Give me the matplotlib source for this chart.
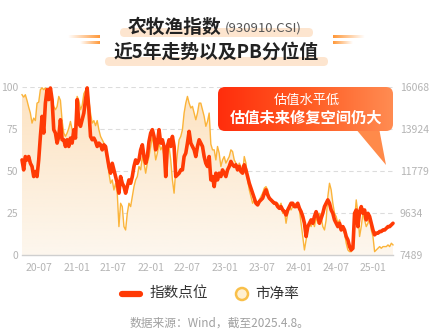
import numpy as np
import pandas as pd
import matplotlib
matplotlib.use("Agg")
import matplotlib.pyplot as plt
import matplotlib.dates as mdates
from matplotlib.patches import FancyBboxPatch, Polygon, Circle
from matplotlib.colors import LinearSegmentedColormap, to_rgb

plt.rcParams['font.family'] = ['Noto Sans CJK SC', 'DejaVu Sans']

# ---- data ----
start_date = "2020-04-08"
end_date = "2025-04-08"

# PB percentile, left axis (0-100)
pb_pct = [
    95.4, 94, 95.4, 92, 88, 84.5, 78.5, 81.5, 80, 90.4,
    91, 98.4, 99.5, 98.4, 99.5, 98.4, 95.4, 96.4, 92, 88.4,
    86.5, 88.4, 94.4, 92, 80, 72.6, 70.6, 72.6, 75.5, 79.5,
    74.6, 70.6, 78.5, 94.4, 92, 86.5, 89, 96, 98, 100,
    92, 84.5, 78.5, 80, 77, 80, 74.6, 70.6, 68.6, 66.6,
    61.6, 56.6, 48.7, 42.7, 44.7, 38.7, 42.7, 36.8, 16.9, 30.8,
    28.8, 16.9, 14.9, 24.8, 30.8, 28.8, 34.8, 40.7, 44.7, 46.7,
    52.7, 50.7, 58.6, 54.6, 48.7, 54.6, 58.6, 64.6, 70.6, 64.6,
    56.6, 60.6, 66.6, 62.6, 64.6, 58.6, 60.6, 66.6, 64.6, 56.6,
    44.7, 36.8, 50.6, 60.6, 68.6, 70.6, 74.6, 84.5, 90.4, 94.4,
    90.4, 87.5, 88.5, 84.5, 80.5, 84.5, 90.4, 90.4, 86.5, 82.5,
    76.6, 79.5, 84.5,
    66, 62.6, 62.6, 56.6, 64.6, 60.6, 52.7, 56.6, 58.6, 54.7,
    56.6, 58.6, 62.6, 61.6, 56.6, 54.7, 50.7, 54.7, 52.7, 48.7,
    58.6, 54.7, 44.7, 38.8, 34.8, 30.8, 32.8, 30.8, 29.8, 32.8,
    34.8, 36.8, 39.8, 40.7, 38.8, 34.8, 32.8, 30.8, 31.8, 29.8,
    30.8, 28.8, 30.8, 24.8, 26.8, 18.9, 24.8, 28.8, 26.8, 28.8,
    29.8, 30.8, 28.8, 26.8, 18.9, 11, 3, 9, 14.9, 18.9,
    16.9, 20.9, 16.9, 22.9, 18.9, 24.8, 22.9, 16.9, 14.9, 20.9,
    34.8, 42.7, 38.8, 30.8, 24.8, 22.9, 18.9, 20.9, 16.9, 14.9,
    12.9, 7, 3, 2, 2, 5, 20.9, 32.8, 24.8, 11,
    16.9, 24.8, 20.9, 16.9, 18.9, 22.9, 14.9, 11, 2, 3,
    4, 5, 4, 5, 5, 5, 6, 5, 7, 6,
]

# index points, right axis
index_pts = [
    12345, 11834, 12516, 12345, 12516, 12173, 12010, 11495, 11753, 11495,
    12345, 13546, 14567, 13717, 15244, 15931, 15425, 16017, 15425, 13889,
    13717, 13203, 13546, 14395, 13374, 13374, 13031, 13374, 13031, 13460,
    13203, 13889, 13460, 15425, 14224, 14061, 14395, 14738, 15425, 16017,
    14910, 13546, 13374, 13460, 13288, 13031, 13203, 13117, 12859, 13117,
    13031, 12516, 12010, 11667, 12173, 11834, 11495, 11152, 10646, 11495,
    11152, 10981, 10646, 10981, 11324, 11152, 11495, 12010, 12345, 12173,
    12345, 12859, 13117, 12516, 12173, 12516, 13288, 13717, 13889, 13546,
    12859, 13203, 13889, 13203, 13374, 13031, 11495, 13031, 13374, 13031,
    13546, 13031, 11495, 11581, 11667, 11834, 11834, 12516, 12688, 13203,
    13803, 13203, 13031, 12859, 12516, 13031, 13374, 13203, 13031, 12516,
    12173, 12010, 12516,
    11324, 11495, 10981, 11667, 11324, 11667, 11495, 11834, 11667, 11495,
    11834, 12010, 12268, 12096, 12010, 12096, 11834, 12010, 11753, 11667,
    12096, 11834, 11495, 11152, 10903, 10646, 10389, 10131, 10046, 10217,
    10303, 10389, 10646, 10818, 10560, 10389, 10303, 10217, 10131, 10131,
    9960, 9874, 9960, 9788, 9702, 9531, 9788, 9960, 10131, 10131,
    9960, 9960, 10131, 9874, 9702, 9454, 9110, 8433, 8939, 9110,
    9282, 9110, 9454, 9702, 9454, 9110, 9368, 9617, 9960, 10131,
    10303, 10131, 9788, 9617, 9282, 9110, 8939, 9110, 8767, 8939,
    8767, 8433, 8261, 7918, 7746, 7832, 9617, 9788, 8939, 9702,
    9960, 9617, 9788, 9282, 9617, 9454, 9110, 8767, 8518, 8604,
    8604, 8690, 8690, 8767, 8767, 8853, 8939, 8939, 9025, 9110,
]

left_ticks = [0, 25, 50, 75, 100]
right_ticks = [7489, 9634, 11779, 13924, 16068]
xtick_dates = ["2020-07-01", "2021-01-01", "2021-07-01", "2022-01-01", "2022-07-01",
               "2023-01-01", "2023-07-01", "2024-01-01", "2024-07-01", "2025-01-01"]
xtick_labels = ["20-07", "21-01", "21-07", "22-01", "22-07",
                "23-01", "23-07", "24-01", "24-07", "25-01"]

RED = "#ff3a05"
GOLD = "#fbb43a"
TICK_GRAY = "#b4b4b4"

W, H = 433, 336
fig = plt.figure(figsize=(W / 100, H / 100), dpi=100)
fig.patch.set_facecolor("white")

# ---- main chart ----
ax = fig.add_axes([22 / W, 81 / H, 371 / W, 168 / H])
dates = mdates.date2num(pd.date_range(start_date, end_date, periods=len(pb_pct)))
x0, x1 = mdates.date2num(pd.Timestamp(start_date)), mdates.date2num(pd.Timestamp(end_date))

# gradient fill under the PB line
grad = np.linspace(0, 1, 256).reshape(-1, 1)
fill_cmap = LinearSegmentedColormap.from_list("fill", ["#fdf7ee", "#fde2c0"])
im = ax.imshow(grad, extent=[x0, x1, 0, 100], origin="lower", aspect="auto",
               cmap=fill_cmap, zorder=1)
verts = np.vstack([[dates[0], 0], np.column_stack([dates, pb_pct]), [dates[-1], 0]])
clip = Polygon(verts, closed=True, transform=ax.transData)
im.set_clip_path(clip)

ax.plot(dates, pb_pct, color=GOLD, lw=1.0, zorder=3, clip_on=False)

ax.set_xlim(x0, x1)
ax.set_ylim(0, 100)
ax.set_yticks(left_ticks)
ax.set_yticklabels([str(t) for t in left_ticks])
ax.set_xticks(mdates.date2num(pd.to_datetime(xtick_dates)))
ax.set_xticklabels(xtick_labels)
ax.yaxis.grid(True, ls=(0, (4, 3)), color="#dcdcdc", lw=0.8)
ax.set_axisbelow(True)
ax.tick_params(axis="y", length=0, pad=3, labelsize=7.5, labelcolor=TICK_GRAY)
ax.tick_params(axis="x", length=0, pad=6, labelsize=7.5, labelcolor=TICK_GRAY)
for s in ["top", "left", "right"]:
    ax.spines[s].set_visible(False)
ax.spines["bottom"].set_color("#cfcfcf")
ax.spines["bottom"].set_linewidth(1.0)

ax2 = ax.twinx()
ax2.plot(dates, index_pts, color=RED, lw=2.6, solid_joinstyle="round",
         solid_capstyle="round", zorder=4, clip_on=False)
ax2.set_ylim(right_ticks[0], right_ticks[-1])
ax2.set_yticks(right_ticks)
ax2.set_yticklabels([str(t) for t in right_ticks])
ax2.tick_params(axis="y", length=0, pad=5, labelsize=7.5, labelcolor=TICK_GRAY)
for s in ax2.spines.values():
    s.set_visible(False)

# ---- overlay in pixel coordinates for title, callout, legend ----
ov = fig.add_axes([0, 0, 1, 1], zorder=10)
ov.set_xlim(0, W)
ov.set_ylim(H, 0)
ov.axis("off")
ov.patch.set_alpha(0)

# title highlight bars
for (bx0, bx1, by0, by1) in [(120, 313, 28, 37), (105, 328, 57, 66)]:
    ov.add_patch(FancyBboxPatch((bx0, by0), bx1 - bx0, by1 - by0,
                                boxstyle="round,pad=0,rounding_size=4.5",
                                fc="#fde5cf", ec="none", zorder=1))

# decorative stripes beside the title (fade outward)
def stripe(xa, xb, y, fade_left):
    n = 64
    a = np.linspace(0, 1, n) if fade_left else np.linspace(1, 0, n)
    rgba = np.zeros((1, n, 4))
    rgba[..., :3] = to_rgb("#ff9838")
    rgba[..., 3] = a
    ov.imshow(rgba, extent=[xa, xb, y + 1.1, y - 1.1], aspect="auto", zorder=1,
              interpolation="bilinear")

stripe(68, 100, 37.3, True)
stripe(80, 100, 43.3, True)
stripe(333, 365, 37.3, False)
stripe(333, 353, 43.3, False)

ov.text(222, 27, "农牧渔指数", ha="right", va="center", fontsize=13.5,
        fontweight="bold", color="#222222", zorder=2)
ov.text(225, 28, "(930910.CSI)", ha="left", va="center", fontsize=9.5,
        color="#555555", zorder=2)
ov.text(216, 52, "近5年走势以及PB分位值", ha="center", va="center", fontsize=13.5,
        fontweight="bold", color="#222222", zorder=2)

# callout with tail
tail = Polygon([[355, 128], [379, 128], [386, 165]], closed=True,
               fc="#ff8a4a", ec="none", zorder=2)
ov.add_patch(tail)
box = FancyBboxPatch((218, 87), 175, 44, boxstyle="round,pad=0,rounding_size=7",
                     fc="none", ec="none", zorder=3)
ov.add_patch(box)
box_cmap = LinearSegmentedColormap.from_list("box", ["#ff2d0c", "#ff5a22", "#ff8c52"])
bgrad = np.linspace(0, 1, 256).reshape(1, -1)
bim = ov.imshow(bgrad, extent=[218, 393, 131, 87], aspect="auto", cmap=box_cmap, zorder=3)
bim.set_clip_path(box)
ov.text(307, 100, "估值水平低", ha="center", va="center", fontsize=9.5,
        color="white", zorder=4)
ov.text(306, 118, "估值未来修复空间仍大", ha="center", va="center", fontsize=11,
        fontweight="bold", color="white", zorder=4)

# legend
ov.plot([122, 140], [294, 294], color=RED, lw=4.5, solid_capstyle="round", zorder=2)
ov.text(150, 294, "指数点位", ha="left", va="center", fontsize=10.5, color="#333333")
ov.add_patch(Circle((242, 294), 6, fc="#fff0d2", ec="#f9c04a", lw=1.8, zorder=2))
ov.text(255, 294, "市净率", ha="left", va="center", fontsize=10.5, color="#333333")

# footnote
ov.text(219, 323, "数据来源：Wind，截至2025.4.8。", ha="center", va="center",
        fontsize=8.5, color="#a0a0a0")

fig.savefig("out.png", dpi=100)
